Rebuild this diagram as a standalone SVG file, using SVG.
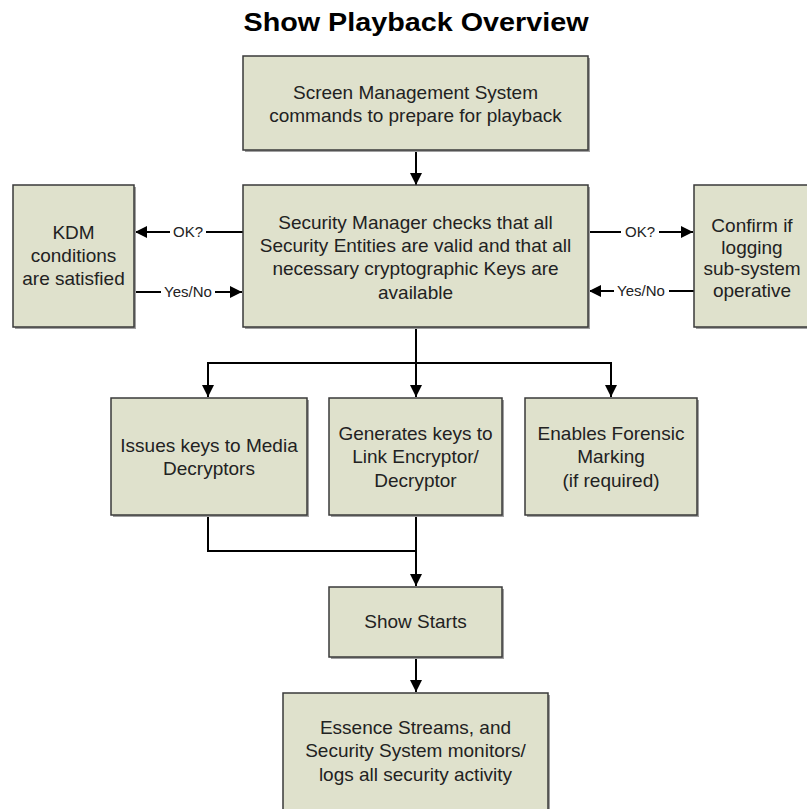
<svg xmlns="http://www.w3.org/2000/svg" width="807" height="809" viewBox="0 0 807 809">
<style>
.box{fill:#dfe1cc;stroke:#3a3a3a;stroke-width:1.5}
.shadow{fill:#a0a0a0}
.t{font-family:"Liberation Sans",Arial,sans-serif;font-size:19px;fill:#222;text-anchor:middle}
.lbl{font-family:"Liberation Sans",Arial,sans-serif;font-size:15px;fill:#222;text-anchor:middle}
.title{font-family:"Liberation Sans",Arial,sans-serif;font-size:26px;font-weight:bold;fill:#000;text-anchor:middle}
.c{fill:none;stroke:#000;stroke-width:2}
.bg{fill:#fff}
</style>
<defs>
<marker id="ah" markerUnits="userSpaceOnUse" markerWidth="12" markerHeight="12" viewBox="0 0 12 12" refX="12" refY="6" orient="auto">
<path d="M0,0 L12,6 L0,12 Z" fill="#000"/>
</marker>
</defs>
<rect width="807" height="809" fill="#fff"/>
<text class="title" x="416" y="31" textLength="345" lengthAdjust="spacingAndGlyphs">Show Playback Overview</text>

<g id="connectors">
<line class="c" x1="416" y1="151" x2="416" y2="185" marker-end="url(#ah)"/>
<line class="c" x1="243" y1="232" x2="135" y2="232" marker-end="url(#ah)"/>
<line class="c" x1="134" y1="292" x2="242" y2="292" marker-end="url(#ah)"/>
<line class="c" x1="589" y1="232" x2="693" y2="232" marker-end="url(#ah)"/>
<line class="c" x1="694" y1="291" x2="589" y2="291" marker-end="url(#ah)"/>
<polyline class="c" points="416,327 416,363"/>
<polyline class="c" points="208,397 208,363 611,363 611,397" marker-end="url(#ah)"/>
<line class="c" x1="208" y1="363" x2="208" y2="397" marker-end="url(#ah)"/>
<line class="c" x1="416" y1="363" x2="416" y2="397" marker-end="url(#ah)"/>
<polyline class="c" points="208,516 208,551 416,551"/>
<line class="c" x1="416" y1="516" x2="416" y2="586" marker-end="url(#ah)"/>
<line class="c" x1="416" y1="658" x2="416" y2="692" marker-end="url(#ah)"/>
<rect class="bg" x="170" y="224" width="36" height="16"/>
<text class="lbl" x="188" y="237">OK?</text>
<rect class="bg" x="161" y="284" width="54" height="16"/>
<text class="lbl" x="188" y="297">Yes/No</text>
<rect class="bg" x="621" y="224" width="38" height="16"/>
<text class="lbl" x="640" y="237">OK?</text>
<rect class="bg" x="614" y="283" width="55" height="16"/>
<text class="lbl" x="641" y="296">Yes/No</text>
</g>

<g id="n-sms">
<rect class="shadow" x="245" y="58" width="345" height="94"/>
<rect class="box" x="243" y="56" width="345" height="94"/>
<text class="t" x="415.5" y="99">Screen Management System</text>
<text class="t" x="415.5" y="122">commands to prepare for playback</text>
</g>

<g id="n-secmgr">
<rect class="shadow" x="245" y="187" width="345" height="142"/>
<rect class="box" x="243" y="185" width="345" height="142"/>
<text class="t" x="415.5" y="229">Security Manager checks that all</text>
<text class="t" x="415.5" y="252">Security Entities are valid and that all</text>
<text class="t" x="415.5" y="275">necessary cryptographic Keys are</text>
<text class="t" x="415.5" y="299">available</text>
</g>

<g id="n-kdm">
<rect class="shadow" x="15" y="187" width="121" height="142"/>
<rect class="box" x="13" y="185" width="121" height="142"/>
<text class="t" x="73.5" y="239">KDM</text>
<text class="t" x="73.5" y="262">conditions</text>
<text class="t" x="73.5" y="285">are satisfied</text>
</g>

<g id="n-logging">
<rect class="shadow" x="696" y="187" width="120" height="142"/>
<rect class="box" x="694" y="185" width="120" height="142"/>
<text class="t" x="752" y="232">Confirm if</text>
<text class="t" x="752" y="254">logging</text>
<text class="t" x="752" y="275">sub-system</text>
<text class="t" x="752" y="297">operative</text>
</g>

<g id="n-issues">
<rect class="shadow" x="113" y="400" width="196" height="117"/>
<rect class="box" x="111" y="398" width="196" height="117"/>
<text class="t" x="209" y="452">Issues keys to Media</text>
<text class="t" x="209" y="475">Decryptors</text>
</g>

<g id="n-generates">
<rect class="shadow" x="331" y="400" width="173" height="117"/>
<rect class="box" x="329" y="398" width="173" height="117"/>
<text class="t" x="415.5" y="440">Generates keys to</text>
<text class="t" x="415.5" y="463">Link Encryptor/</text>
<text class="t" x="415.5" y="487">Decryptor</text>
</g>

<g id="n-forensic">
<rect class="shadow" x="527" y="400" width="172" height="117"/>
<rect class="box" x="525" y="398" width="172" height="117"/>
<text class="t" x="611" y="440">Enables Forensic</text>
<text class="t" x="611" y="463">Marking</text>
<text class="t" x="611" y="487">(if required)</text>
</g>

<g id="n-showstarts">
<rect class="shadow" x="331" y="589" width="173" height="70"/>
<rect class="box" x="329" y="587" width="173" height="70"/>
<text class="t" x="415.5" y="628">Show Starts</text>
</g>

<g id="n-essence">
<rect class="shadow" x="285" y="695" width="265" height="130"/>
<rect class="box" x="283" y="693" width="265" height="130"/>
<text class="t" x="415.5" y="734">Essence Streams, and</text>
<text class="t" x="415.5" y="757">Security System monitors/</text>
<text class="t" x="415.5" y="781">logs all security activity</text>
</g>
</svg>
